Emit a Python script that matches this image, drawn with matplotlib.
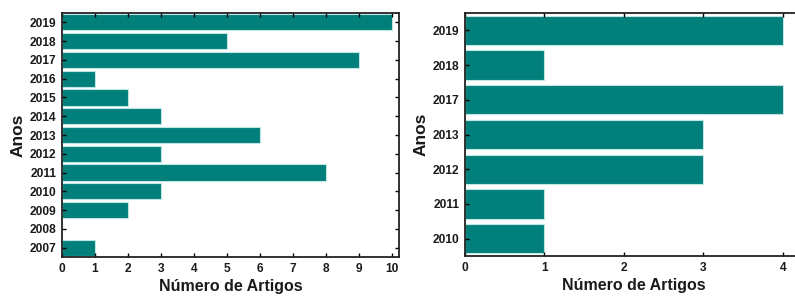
import matplotlib
matplotlib.use("Agg")
import matplotlib.pyplot as plt

plt.rcParams['font.family'] = ['Liberation Sans', 'DejaVu Sans']
plt.rcParams['font.weight'] = 'bold'

years_left = ['2007', '2008', '2009', '2010', '2011', '2012', '2013', '2014', '2015', '2016', '2017', '2018', '2019']
counts_left = [1, 0, 2, 3, 8, 3, 6, 3, 2, 1, 9, 5, 10]

years_right = ['2010', '2011', '2012', '2013', '2017', '2018', '2019']
counts_right = [1, 1, 3, 3, 4, 1, 4]

bar_color = '#007f7b'
edge_color = '#bfe6e3'

W, H = 795, 297
fig = plt.figure(figsize=(W / 100, H / 100), dpi=100)

def make_ax(rect, years, counts, xmax, xticks, height):
    ax = fig.add_axes(rect)
    ypos = list(range(len(years)))
    ax.barh(ypos, counts, height=height, color=bar_color, edgecolor=edge_color, linewidth=0.8)
    ax.set_yticks(ypos)
    ax.set_yticklabels(years)
    ax.set_ylim(-0.5, len(years) - 0.5)
    ax.set_xlim(0, xmax)
    ax.set_xticks(xticks)
    ax.tick_params(axis='both', direction='in', top=True, right=True, labelsize=8.6, length=3, width=1, pad=4)
    for lab in ax.get_xticklabels() + ax.get_yticklabels():
        lab.set_fontweight('bold')
        lab.set_color('#1a1a1a')
    for s in ax.spines.values():
        s.set_linewidth(1.3)
        s.set_color('#222222')
    ax.set_xlabel('Número de Artigos', fontsize=11.5, fontweight='bold', labelpad=3, color='#1a1a1a')
    ax.set_ylabel('Anos', fontsize=12.5, fontweight='bold', labelpad=3, color='#1a1a1a')
    return ax

make_ax([62 / W, (H - 257) / H, (399 - 62) / W, (257 - 13) / H],
        years_left, counts_left, 10.2, list(range(0, 11)), 0.86)
make_ax([465 / W, (H - 256) / H, (802 - 465) / W, (256 - 13) / H],
        years_right, counts_right, 4.24, list(range(0, 5)), 0.84)

fig.savefig('out.png', dpi=100)
